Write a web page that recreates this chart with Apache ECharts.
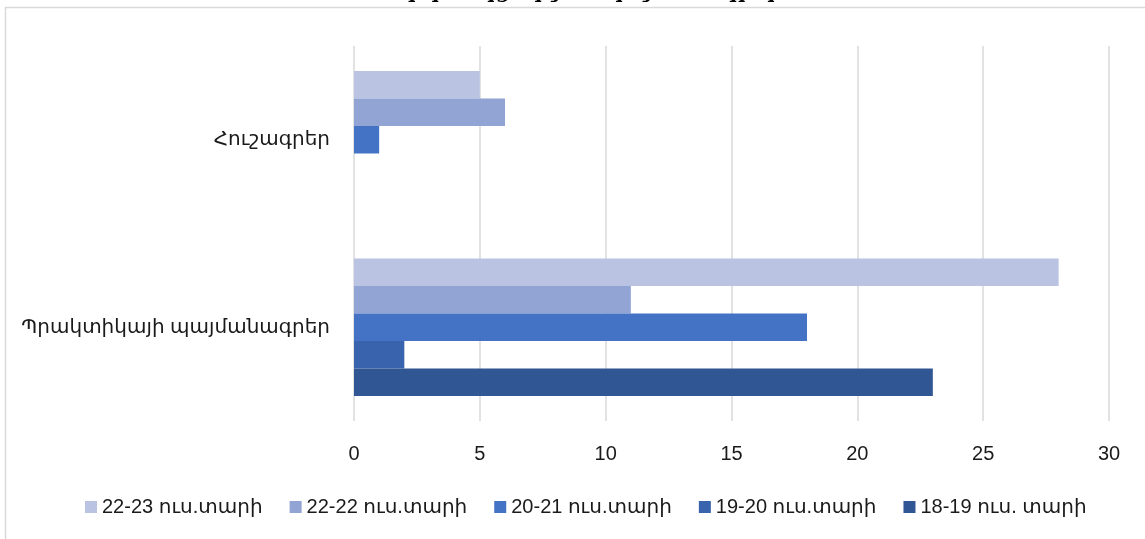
<!DOCTYPE html>
<html>
<head>
<meta charset="utf-8">
<script src="https://cdn.jsdelivr.net/npm/echarts@6/dist/echarts.min.js"></script>
<style>
html,body{margin:0;padding:0;background:#fff;}
#chart{width:1145px;height:539px;}
</style>
</head>
<body>
<div id="chart"></div>
<script>
const categories = ['Պրակտիկայի պայմանագրեր', 'Հուշագրեր'];
const seriesNames = ['22-23 ուս.տարի', '22-22 ուս.տարի', '20-21 ուս.տարի', '19-20 ուս.տարի', '18-19 ուս. տարի'];
const values2223 = [28, 5];
const values2222 = [11, 6];
const values2021 = [18, 1];
const values1920 = [2, 0];
const values1819 = [23, 0];
const xTicks = { min: 0, max: 30, interval: 5 };
const titleText = 'Համագործակցության պայմանագրեր';

const colors = ['#BAC4E2', '#91A4D4', '#4472C4', '#3A63AD', '#305694'];
const allValues = [values2223, values2222, values2021, values1920, values1819];
const FONT = "'Liberation Sans', 'DejaVu Sans', sans-serif";

const chart = echarts.init(document.getElementById('chart'), null, {renderer: 'canvas'});
const option = {
  animation: false,
  backgroundColor: '#fff',
  textStyle: { fontFamily: FONT },
  graphic: [
    { type: 'rect', shape: { x: 5.5, y: 7.5, width: 1160, height: 560 },
      style: { fill: 'none', stroke: '#d9d9d9', lineWidth: 1.5 }, silent: true, z: -1 },
    { type: 'text', x: 557, y: 3,
      style: { text: titleText, font: "italic bold 20px 'DejaVu Serif', serif", fill: '#000',
               textAlign: 'center', textVerticalAlign: 'bottom' } }
  ],
  grid: { left: 354, right: 36, top: 46, bottom: 118, containLabel: false },
  legend: {
    data: seriesNames,
    left: 80, top: 492,
    itemWidth: 12, itemHeight: 12, itemGap: 27,
    icon: 'rect',
    textStyle: { fontSize: 20, color: '#1a1a1a', fontFamily: FONT }
  },
  xAxis: {
    type: 'value', min: xTicks.min, max: xTicks.max, interval: xTicks.interval,
    axisLine: { show: false }, axisTick: { show: false },
    axisLabel: { fontSize: 20, color: '#1a1a1a', margin: 23 },
    splitLine: { show: true, lineStyle: { color: '#d9d9d9', width: 1.5 } }
  },
  yAxis: {
    type: 'category', data: categories,
    axisLine: { show: false }, axisTick: { show: false },
    axisLabel: { fontSize: 20, color: '#1a1a1a', margin: 24 }
  },
  series: seriesNames.map((n, i) => ({
    name: n, type: 'bar', data: allValues[i],
    barWidth: 27.5, barGap: '0%',
    itemStyle: { color: colors[i] }
  }))
};
chart.setOption(option);
</script>
</body>
</html>
